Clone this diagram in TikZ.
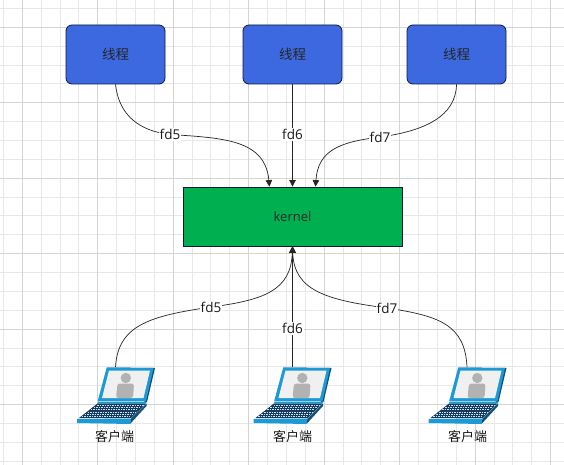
\documentclass[tikz,border=0pt]{standalone}
\usepackage{fontspec}
\setmainfont{Open Sans}
\newfontfamily\cjk{Noto Sans CJK SC}
\usepackage{tikz}
\usetikzlibrary{arrows.meta,calc}
\definecolor{threadblue}{HTML}{3D69E0}
\definecolor{kernelgreen}{HTML}{00B050}
\definecolor{boxline}{HTML}{10173F}
\definecolor{gridmajor}{HTML}{D4D4D4}
\definecolor{gridminor}{HTML}{E8E8E8}
\definecolor{lapblue}{HTML}{1C9AD6}
\definecolor{lapdark}{HTML}{12507A}
\definecolor{lapkeys}{HTML}{17395C}
\tikzset{
  threadbox/.style={draw=boxline, line width=0.8pt, fill=threadblue, rounded corners=6pt, minimum width=99pt, minimum height=59pt, font=\cjk\fontsize{13.5}{16}\selectfont, text=black!85},
  kernelbox/.style={draw=boxline, line width=0.8pt, fill=kernelgreen, minimum width=219pt, minimum height=59pt, font=\fontsize{13}{16}\selectfont, text=black!85},
  fdlabel/.style={fill=white, inner sep=1pt, font=\fontsize{13.5}{16}\selectfont, text=black!90},
  clientlabel/.style={font=\cjk\fontsize{13}{15}\selectfont, text=black!90, inner sep=0pt},
  fdline/.style={->, line width=0.7pt, draw=black!85},
  fdpart/.style={line width=0.7pt, draw=black!85}
}
\begin{document}
\begin{tikzpicture}[x=1pt, y=-1pt, >={Stealth[inset=0pt,length=6.5pt,width=6.5pt]}]
  \useasboundingbox (0,0) rectangle (564,465);
  \fill[white] (0,0) rectangle (564,465);
  % Grid
  \foreach \i in {0,...,30} {
    \draw[gridminor, line width=0.8pt] ({3.3+18.87*\i},0) -- ({3.3+18.87*\i},465);
    \draw[gridminor, line width=0.8pt] (0,{8.3+18.87*\i}) -- (564,{8.3+18.87*\i});
  }
  \foreach \i in {0,...,7} {
    \draw[gridmajor, line width=0.9pt] ({22.2+75.5*\i},0) -- ({22.2+75.5*\i},465);
    \draw[gridmajor, line width=0.9pt] (0,{27.2+75.5*\i}) -- (564,{27.2+75.5*\i});
  }
  % Threads
  \node[threadbox] (thread1) at (115.5,54.5) {线程};
  \node[threadbox] (thread2) at (292.5,54.5) {线程};
  \node[threadbox] (thread3) at (456.5,54.5) {线程};
  % Kernel
  \node[kernelbox] (kernel) at (292.5,216.5) {kernel};
  % Laptops
  \foreach \dx/\cx/\n in {0/115.5/1, 176.5/292.5/2, 351.5/467/3} {
    \begin{scope}[shift={(\dx,0)}]
      \fill[lapdark] (106.7,367.5) -- (155,368) -- (147,402) -- (145,402) -- cycle;
      \fill[lapblue] (106.7,367.5) -- (153.5,368) -- (146,401) -- (97.7,401) -- cycle;
      \fill[white!94!black] (109,370.5) -- (150,370.5) -- (143.5,398) -- (102,398) -- cycle;
      % person
      \fill[black!30] (125.8,378) circle (5.2pt);
      \fill[black!30, rounded corners=2.5pt] (116,398) -- (117.5,383.5) -- (134,383.5) -- (133,398) -- cycle;
      % keyboard and base
      \fill[lapblue] (98,401.5) -- (146.5,401.5) -- (146,403.5) -- (97.5,403.5) -- cycle;
      \fill[lapkeys] (97.5,403.5) -- (146,403.5) -- (131,418) -- (79,418) -- cycle;
      \foreach \k in {0,...,5} {
        \draw[white!75!lapblue, line width=0.6pt, dash pattern=on 1.5pt off 1pt] ({97-3.1*\k},{405.5+2.1*\k}) -- ({144-2.9*\k},{405.5+2.1*\k});
      }
      \fill[lapblue] (77,419) -- (131,418.5) -- (130,424) -- (77,423) -- cycle;
      \fill[lapdark] (131,418.5) -- (146.5,403.5) -- (146.5,406) -- (130,424) -- cycle;
    \end{scope}
    \coordinate (client\n) at (\cx,367);
  }
  % Client labels
  \node[clientlabel] (label1) at (114.5,437) {客户端};
  \node[clientlabel] (label2) at (292.5,437) {客户端};
  \node[clientlabel] (label3) at (467.5,437) {客户端};
  % Labels on the lines
  \coordinate (top5) at (170,134.5);
  \coordinate (top7) at (380,137);
  \coordinate (low5) at (211,307);
  \coordinate (low7) at (387,308);
  % Thread to kernel
  \draw[fdpart] (thread1.south) .. controls (119,116) and (140,131) .. (top5);
  \draw[fdline] (top5) .. controls (225,138) and (265,140) .. ($(kernel.north)+(-23,0)$);
  \draw[fdline] (thread2.south) -- (kernel.north);
  \draw[fdpart] (thread3.south) .. controls (456,116) and (425,131) .. (top7);
  \draw[fdline] (top7) .. controls (340,142) and (318,150) .. ($(kernel.north)+(23,0)$);
  % Clients to kernel
  \draw[fdpart] (client1) .. controls (118,325) and (150,316) .. (low5);
  \draw[fdline] (low5) .. controls (265,300) and (291,290) .. (kernel.south);
  \draw[fdline] (client2) -- (kernel.south);
  \draw[fdpart] (client3) .. controls (465,325) and (440,316) .. (low7);
  \draw[fdline] (low7) .. controls (325,300) and (294,290) .. (kernel.south);
  % fd labels
  \node[fdlabel] (fd5top) at (top5) {fd5};
  \node[fdlabel] (fd6top) at (292.5,134.5) {fd6};
  \node[fdlabel] (fd7top) at (top7) {fd7};
  \node[fdlabel] (fd5low) at (low5) {fd5};
  \node[fdlabel] (fd6low) at (292.5,328.5) {fd6};
  \node[fdlabel] (fd7low) at (low7) {fd7};
\end{tikzpicture}
\end{document}
